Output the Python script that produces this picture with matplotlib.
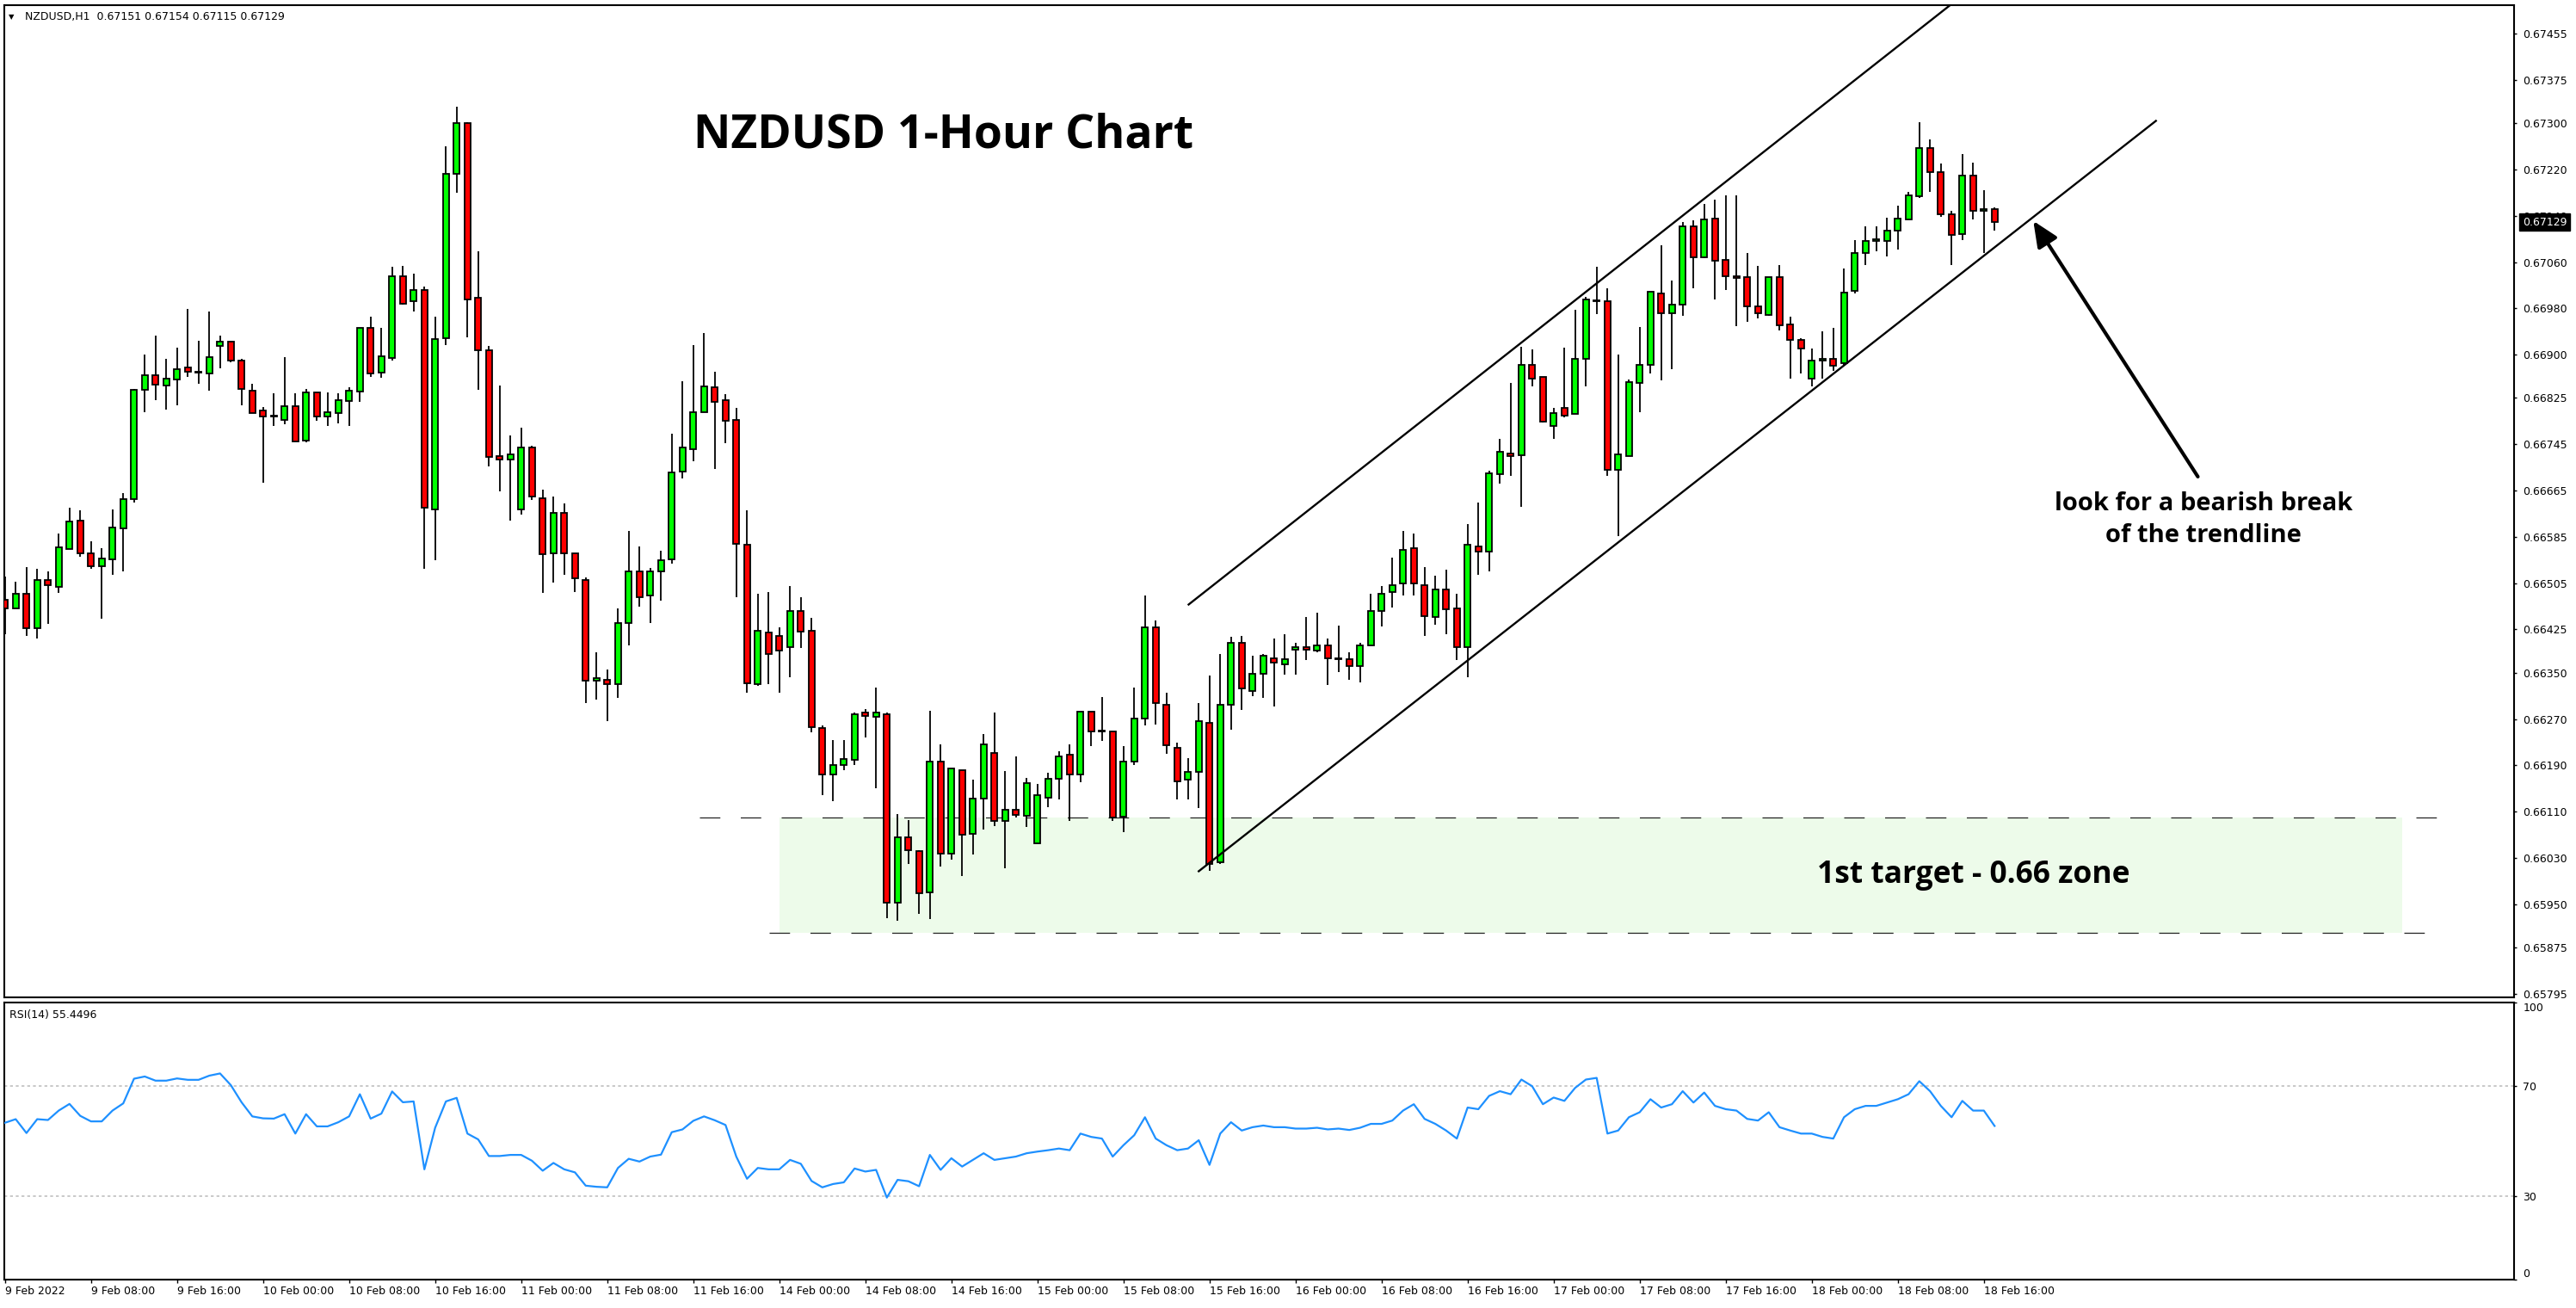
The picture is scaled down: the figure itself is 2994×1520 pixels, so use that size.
import matplotlib
matplotlib.use('Agg')
import matplotlib.pyplot as plt
from matplotlib.transforms import blended_transform_factory
import numpy as np

W, H = 2994, 1520

# ---------------- data ----------------
opens = [0.66476,0.66462,0.66487,0.66427,0.66511,0.66499,0.66564,0.66613,0.66557,0.66534,
         0.66546,0.66599,0.66650,0.66839,0.66864,0.66846,0.66857,0.66878,0.66871,0.66867,
         0.66915,0.66922,0.66890,0.66838,0.66804,0.66793,0.66787,0.66811,0.66752,0.66834,
         0.66793,0.66799,0.66820,0.66836,0.66946,0.66869,0.66894,0.67036,0.66992,0.67011,
         0.66632,0.66929,0.67213,0.67300,0.66998,0.66908,0.66725,0.66718,0.66632,0.66739,
         0.66652,0.66557,0.66627,0.66557,0.66511,0.66336,0.66338,0.66330,0.66436,0.66525,
         0.66483,0.66525,0.66546,0.66698,0.66736,0.66801,0.66843,0.66821,0.66787,0.66571,
         0.66330,0.66419,0.66413,0.66394,0.66457,0.66423,0.66255,0.66174,0.66191,0.66199,
         0.66281,0.66274,0.66278,0.65953,0.66065,0.66042,0.65971,0.66197,0.66037,0.66181,
         0.66071,0.66132,0.66212,0.66094,0.66114,0.66103,0.66055,0.66134,0.66167,0.66209,
         0.66174,0.66283,0.66250,0.66249,0.66101,0.66197,0.66271,0.66429,0.66295,0.66221,
         0.66165,0.66179,0.66264,0.66023,0.66295,0.66402,0.66319,0.66348,0.66375,0.66365,
         0.66390,0.66394,0.66388,0.66398,0.66375,0.66374,0.66362,0.66397,0.66457,0.66489,
         0.66504,0.66565,0.66502,0.66446,0.66494,0.66461,0.66394,0.66569,0.66559,0.66694,
         0.66729,0.66726,0.66882,0.66861,0.66777,0.66808,0.66797,0.66892,0.66992,0.66992,
         0.66701,0.66725,0.66851,0.66883,0.67005,0.66972,0.66987,0.67122,0.67068,0.67135,
         0.67064,0.67036,0.67034,0.66983,0.66968,0.67034,0.66952,0.66925,0.66859,0.66890,
         0.66892,0.66885,0.67010,0.67076,0.67097,0.67097,0.67115,0.67133,0.67174,0.67257,
         0.67216,0.67142,0.67108,0.67209,0.67149,0.67151]
highs = [0.66516,0.66508,0.66532,0.66530,0.66525,0.66590,0.66636,0.66631,0.66578,0.66565,
         0.66632,0.66660,0.66841,0.66900,0.66933,0.66892,0.66912,0.66979,0.66924,0.66974,
         0.66933,0.66922,0.66892,0.66850,0.66809,0.66833,0.66896,0.66833,0.66841,0.66834,
         0.66834,0.66833,0.66844,0.66946,0.66966,0.66946,0.67052,0.67053,0.67040,0.67018,
         0.66966,0.67260,0.67328,0.67301,0.67078,0.66915,0.66847,0.66760,0.66774,0.66743,
         0.66667,0.66655,0.66643,0.66557,0.66515,0.66386,0.66355,0.66462,0.66595,0.66569,
         0.66531,0.66561,0.66763,0.66854,0.66916,0.66937,0.66870,0.66832,0.66808,0.66631,
         0.66486,0.66490,0.66428,0.66500,0.66480,0.66445,0.66259,0.66234,0.66234,0.66281,
         0.66287,0.66324,0.66281,0.66106,0.66095,0.66044,0.66284,0.66227,0.66184,0.66181,
         0.66165,0.66244,0.66282,0.66180,0.66205,0.66168,0.66158,0.66177,0.66214,0.66227,
         0.66283,0.66283,0.66308,0.66249,0.66224,0.66324,0.66483,0.66440,0.66316,0.66229,
         0.66202,0.66298,0.66345,0.66382,0.66412,0.66413,0.66379,0.66382,0.66409,0.66416,
         0.66402,0.66446,0.66454,0.66409,0.66432,0.66386,0.66402,0.66486,0.66500,0.66549,
         0.66595,0.66590,0.66533,0.66518,0.66528,0.66487,0.66607,0.66644,0.66700,0.66755,
         0.66851,0.66914,0.66909,0.66861,0.66808,0.66912,0.66977,0.67000,0.67052,0.67014,
         0.66900,0.66857,0.66948,0.67008,0.67089,0.67028,0.67129,0.67132,0.67160,0.67168,
         0.67176,0.67176,0.67076,0.67053,0.67034,0.67055,0.66965,0.66928,0.66911,0.66941,
         0.66946,0.67049,0.67098,0.67121,0.67121,0.67137,0.67158,0.67181,0.67301,0.67272,
         0.67231,0.67149,0.67247,0.67232,0.67184,0.67154]
lows = [0.66416,0.66462,0.66413,0.66409,0.66434,0.66488,0.66564,0.66550,0.66529,0.66443,
        0.66520,0.66525,0.66645,0.66801,0.66822,0.66805,0.66813,0.66861,0.66850,0.66838,
        0.66876,0.66887,0.66812,0.66799,0.66678,0.66776,0.66780,0.66750,0.66748,0.66786,
        0.66777,0.66781,0.66776,0.66819,0.66861,0.66860,0.66889,0.66987,0.66974,0.66529,
        0.66545,0.66917,0.67179,0.66930,0.66839,0.66706,0.66664,0.66613,0.66623,0.66648,
        0.66488,0.66506,0.66520,0.66489,0.66297,0.66303,0.66266,0.66306,0.66397,0.66464,
        0.66436,0.66475,0.66538,0.66686,0.66715,0.66801,0.66702,0.66747,0.66480,0.66315,
        0.66327,0.66330,0.66315,0.66343,0.66393,0.66247,0.66138,0.66128,0.66182,0.66191,
        0.66238,0.66150,0.65926,0.65922,0.66020,0.65933,0.65925,0.66015,0.66027,0.65999,
        0.66036,0.66079,0.66085,0.66012,0.66100,0.66083,0.66055,0.66118,0.66131,0.66094,
        0.66161,0.66224,0.66232,0.66094,0.66074,0.66190,0.66259,0.66261,0.66210,0.66131,
        0.66131,0.66116,0.66007,0.66020,0.66252,0.66286,0.66309,0.66307,0.66292,0.66347,
        0.66347,0.66372,0.66386,0.66329,0.66351,0.66338,0.66333,0.66397,0.66430,0.66463,
        0.66483,0.66483,0.66414,0.66433,0.66417,0.66372,0.66343,0.66520,0.66526,0.66677,
        0.66690,0.66637,0.66845,0.66782,0.66755,0.66791,0.66797,0.66845,0.66970,0.66690,
        0.66586,0.66724,0.66801,0.66868,0.66856,0.66875,0.66967,0.67015,0.67067,0.66996,
        0.67011,0.66949,0.66956,0.66963,0.66967,0.66942,0.66859,0.66868,0.66845,0.66859,
        0.66872,0.66882,0.67005,0.67055,0.67078,0.67070,0.67082,0.67133,0.67171,0.67181,
        0.67138,0.67055,0.67098,0.67133,0.67075,0.67115]
closes = [0.66462,0.66487,0.66427,0.66511,0.66501,0.66567,0.66611,0.66557,0.66534,0.66548,
          0.66601,0.66650,0.66839,0.66864,0.66848,0.66858,0.66875,0.66871,0.66869,0.66895,
          0.66922,0.66889,0.66840,0.66799,0.66793,0.66795,0.66811,0.66750,0.66834,0.66793,
          0.66800,0.66821,0.66837,0.66946,0.66867,0.66897,0.67036,0.66988,0.67011,0.66636,
          0.66927,0.67213,0.67300,0.66995,0.66908,0.66723,0.66718,0.66727,0.66739,0.66654,
          0.66555,0.66626,0.66557,0.66513,0.66336,0.66341,0.66330,0.66436,0.66525,0.66481,
          0.66525,0.66544,0.66697,0.66739,0.66801,0.66845,0.66819,0.66786,0.66573,0.66332,
          0.66423,0.66383,0.66389,0.66457,0.66421,0.66256,0.66174,0.66190,0.66201,0.66279,
          0.66276,0.66281,0.65953,0.66065,0.66043,0.65969,0.66197,0.66037,0.66184,0.66070,
          0.66132,0.66227,0.66094,0.66114,0.66104,0.66160,0.66139,0.66167,0.66206,0.66174,
          0.66283,0.66249,0.66249,0.66100,0.66197,0.66271,0.66429,0.66297,0.66225,0.66163,
          0.66179,0.66266,0.66019,0.66295,0.66402,0.66323,0.66348,0.66380,0.66367,0.66373,
          0.66394,0.66390,0.66398,0.66375,0.66373,0.66362,0.66398,0.66457,0.66487,0.66502,
          0.66562,0.66504,0.66448,0.66494,0.66460,0.66394,0.66572,0.66559,0.66695,0.66732,
          0.66724,0.66882,0.66859,0.66784,0.66799,0.66794,0.66892,0.66996,0.66994,0.66701,
          0.66727,0.66853,0.66882,0.67008,0.66972,0.66987,0.67122,0.67068,0.67134,0.67062,
          0.67036,0.67033,0.66983,0.66972,0.67034,0.66950,0.66925,0.66910,0.66890,0.66892,
          0.66881,0.67007,0.67076,0.67097,0.67099,0.67115,0.67135,0.67176,0.67257,0.67216,
          0.67143,0.67107,0.67210,0.67149,0.67151,0.67129]
rsi = [56.6,57.9,52.9,57.9,57.6,61.0,63.4,59.1,57.1,57.1,
       61.0,63.6,72.5,73.3,71.8,71.8,72.6,72.1,72.1,73.6,
       74.4,70.2,64.0,58.9,58.2,58.1,59.7,52.7,59.7,55.3,
       55.3,56.8,58.9,66.9,58.1,59.9,67.9,64.0,64.3,39.8,
       54.8,64.3,65.6,52.7,50.6,44.6,44.6,45.0,45.0,42.9,
       39.3,42.1,39.8,38.7,33.9,33.5,33.3,40.3,43.6,42.6,
       44.4,45.1,53.2,54.2,57.3,58.9,57.5,55.8,44.4,36.4,
       40.3,39.8,39.8,43.2,41.8,35.6,33.3,34.5,35.1,40.1,
       39.0,39.6,29.6,36.0,35.5,33.7,45.0,39.6,43.8,40.8,
       43.2,45.6,43.2,43.8,44.4,45.6,46.2,46.7,47.3,46.7,
       52.7,51.5,50.9,44.4,48.5,52.1,58.6,50.9,48.5,46.7,
       47.3,50.3,41.4,52.7,56.8,53.8,55.0,55.6,55.0,55.0,
       54.5,54.5,54.8,54.2,54.5,54.0,54.8,56.2,56.2,57.4,
       61.0,63.3,58.0,56.2,53.8,50.9,62.1,61.5,66.3,68.0,
       66.9,72.2,69.8,63.3,65.7,64.5,69.2,72.2,72.8,52.7,
       53.8,58.6,60.4,65.1,62.1,63.3,68.0,63.9,67.5,62.7,
       61.5,61.0,58.0,57.4,60.4,55.0,53.8,52.7,52.7,51.5,
       50.9,58.6,61.5,62.7,62.7,63.9,65.1,66.9,71.6,68.0,
       62.7,58.6,64.5,61.0,61.0,55.45]

date_labels = ['9 Feb 2022', '9 Feb 08:00', '9 Feb 16:00', '10 Feb 00:00', '10 Feb 08:00',
               '10 Feb 16:00', '11 Feb 00:00', '11 Feb 08:00', '11 Feb 16:00', '14 Feb 00:00',
               '14 Feb 08:00', '14 Feb 16:00', '15 Feb 00:00', '15 Feb 08:00', '15 Feb 16:00',
               '16 Feb 00:00', '16 Feb 08:00', '16 Feb 16:00', '17 Feb 00:00', '17 Feb 08:00',
               '17 Feb 16:00', '18 Feb 00:00', '18 Feb 08:00', '18 Feb 16:00']
bars_per_label = 8
price_ticks = [0.67455, 0.67375, 0.67300, 0.67220, 0.67140, 0.67060, 0.66980, 0.66900,
               0.66825, 0.66745, 0.66665, 0.66585, 0.66505, 0.66425, 0.66350, 0.66270,
               0.66190, 0.66110, 0.66030, 0.65950, 0.65875, 0.65795]
rsi_ticks = [0, 30, 70, 100]
rsi_levels = [30, 70]
last_price = 0.67129
header = 'NZDUSD,H1  0.67151 0.67154 0.67115 0.67129'
rsi_header = 'RSI(14) 55.4496'

zone_low, zone_high = 0.6590, 0.6610
zone_x = (72.0, 222.9)
upper_dash_x = (64.6, 226.8)
lower_dash_x = (71.1, 226.8)
upper_channel_x, upper_channel_y = [110.06, 181.0], [0.66468, 0.67506]
lower_channel_x, lower_channel_y = [111.0, 200.0], [0.66007, 0.67304]
arrow_tail = (203.9, 0.66689)
arrow_head = (188.6, 0.67131)

# ---------------- figure ----------------
fig = plt.figure(figsize=(W / 100, H / 100), dpi=100)
fig.patch.set_facecolor('white')

ax = fig.add_axes([5 / W, 1 - 1159 / H, 2917 / W, 1153 / H])
axr = fig.add_axes([5 / W, 1 - 1487 / H, 2917 / W, 322 / H])

xlim = (-0.06, 233.3)

o = np.array(opens); h = np.array(highs); l = np.array(lows); c = np.array(closes)
idx = np.arange(len(o))
up = c >= o
body_bottom = np.minimum(o, c)
body_h = np.maximum(np.abs(c - o), 1e-7)

# zone
ax.fill_between(list(zone_x), zone_low, zone_high, color='#edfbea', lw=0, zorder=0.5)
ax.plot(list(upper_dash_x), [zone_high] * 2, color='#222222', lw=0.9, dashes=(19, 19), zorder=1)
ax.plot(list(lower_dash_x), [zone_low] * 2, color='#222222', lw=0.9, dashes=(19, 19), zorder=1)

# candles
ax.vlines(idx, l, h, color='black', lw=1.3, zorder=2)
ax.bar(idx, body_h, bottom=body_bottom, width=0.58,
       color=np.where(up, '#00ff00', '#ff0000'), edgecolor='black', linewidth=1.3, zorder=3)

# channel
ax.plot(upper_channel_x, upper_channel_y, color='black', lw=1.7, zorder=4)
ax.plot(lower_channel_x, lower_channel_y, color='black', lw=1.7, zorder=4)

# arrow
ax.annotate('', xy=arrow_head, xytext=arrow_tail,
            arrowprops=dict(arrowstyle='-|>,head_length=0.9,head_width=0.4', color='black',
                            lw=3.0, mutation_scale=20, shrinkA=0, shrinkB=0), zorder=5)

ax.set_xlim(*xlim)
ax.set_ylim(0.65789, 0.67504)
ax.set_xticks([])
ax.yaxis.tick_right()
ax.set_yticks(price_ticks)
ax.set_yticklabels([f'{v:.5f}' for v in price_ticks])
ax.tick_params(axis='y', direction='out', length=2.5, width=1, pad=5, labelsize=9, colors='black')
for s in ax.spines.values():
    s.set_linewidth(1.5); s.set_color('black')

# current price marker
trans = blended_transform_factory(ax.transAxes, ax.transData)
ax.text(1.0 + 10 / 2917, last_price, f'{last_price:.5f}', transform=trans, color='white',
        fontsize=9, va='center', ha='left', clip_on=False, zorder=10,
        bbox=dict(boxstyle='square,pad=0.3', fc='black', ec='black'))

# RSI panel
axr.plot(idx, rsi, color='#1e90ff', lw=1.6, zorder=3)
for lv in rsi_levels:
    axr.axhline(lv, color='#c0c0c0', lw=1.2, dashes=(2, 2), zorder=1)
axr.set_xlim(*xlim)
axr.set_ylim(0, 100)
axr.yaxis.tick_right()
axr.set_yticks(rsi_ticks)
axr.set_yticklabels([str(v) for v in rsi_ticks])
axr.tick_params(axis='y', direction='out', length=2.5, width=1, pad=5, labelsize=9)
for t, v in zip(axr.yaxis.get_major_ticks(), rsi_ticks):
    if v == 100:
        t.label2.set_va('top')
    elif v == 0:
        t.label2.set_va('bottom')
axr.set_xticks(np.arange(len(date_labels)) * bars_per_label)
axr.set_xticklabels(date_labels, ha='left')
axr.tick_params(axis='x', direction='out', length=3, width=1, pad=2, labelsize=9)
for s in axr.spines.values():
    s.set_linewidth(1.5); s.set_color('black')

# texts
fig.text(10 / W, 1 - 20 / H, '\u25bc', fontsize=6, va='center', ha='left')
fig.text(29 / W, 1 - 20 / H, header, fontsize=9, va='center', ha='left')
fig.text(11 / W, 1 - 1179 / H, rsi_header, fontsize=9, va='center', ha='left')

fig.text(1097 / W, 1 - 157 / H, 'NZDUSD 1-Hour Chart', fontsize=38.5, fontweight='bold',
         family='Open Sans', ha='center', va='center')
fig.text(2294 / W, 1 - 1017 / H, '1st target - 0.66 zone', fontsize=25.5, fontweight='bold',
         family='Open Sans', ha='center', va='center')
fig.text(2561 / W, 1 - 585 / H, 'look for a bearish break', fontsize=21, fontweight='bold',
         family='Open Sans', ha='center', va='center')
fig.text(2561 / W, 1 - 623 / H, 'of the trendline', fontsize=21, fontweight='bold',
         family='Open Sans', ha='center', va='center')

fig.savefig('out.png', dpi=100)
